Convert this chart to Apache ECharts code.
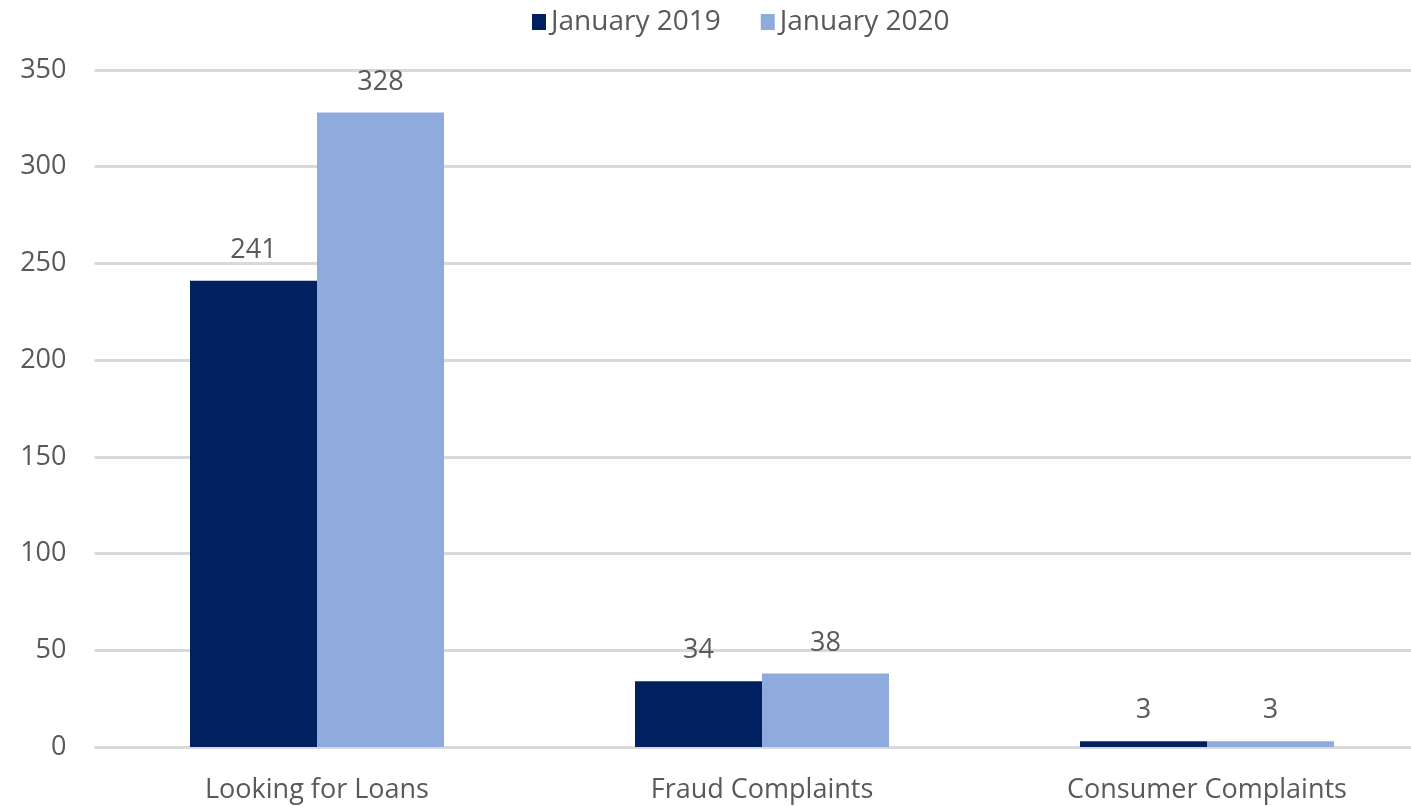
<!DOCTYPE html>
<html>
<head>
<meta charset="utf-8">
<title>Loans and complaints</title>
<script src="https://cdn.jsdelivr.net/npm/echarts@6/dist/echarts.min.js"></script>
<style>
  html, body { margin: 0; padding: 0; background: #fff; }
  #chart { width: 1411px; height: 806px; }
</style>
</head>
<body>
<div id="chart"></div>
<script>
const categories = ['Looking for Loans', 'Fraud Complaints', 'Consumer Complaints']
const jan2019 = [241, 34, 3]
const jan2020 = [328, 38, 3]
const seriesNames = ['January 2019', 'January 2020']

const textColor = '#595959'
const fontFamily = '"Open Sans", "Noto Sans", sans-serif'

const chart = echarts.init(document.getElementById('chart'))

function barLabel() {
  return {
    show: true,
    position: 'top',
    distance: 17,
    color: textColor,
    fontSize: 27,
    fontFamily: fontFamily
  }
}

chart.setOption({
  animation: false,
  legend: {
    data: seriesNames,
    left: 527,
    top: 3,
    itemWidth: 14,
    itemHeight: 16,
    itemGap: 40,
    icon: 'rect',
    textStyle: {
      color: textColor,
      fontSize: 28,
      fontFamily: fontFamily
    }
  },
  grid: {
    left: 94.5,
    width: 1335,
    top: 70,
    bottom: 59,
    containLabel: false,
    outerBoundsMode: 'none'
  },
  xAxis: {
    type: 'category',
    data: categories,
    axisLine: { show: false },
    axisTick: { show: false },
    axisLabel: {
      color: textColor,
      fontSize: 27,
      fontFamily: fontFamily,
      margin: 30
    }
  },
  yAxis: {
    type: 'value',
    min: 0,
    max: 350,
    interval: 50,
    axisLine: { show: false },
    axisTick: { show: false },
    axisLabel: {
      color: textColor,
      fontSize: 27,
      fontFamily: fontFamily,
      margin: 28
    },
    splitLine: {
      lineStyle: { color: '#d9d9d9', width: 3 }
    }
  },
  series: [
    {
      name: seriesNames[0],
      type: 'bar',
      data: jan2019,
      barWidth: 127,
      barGap: '0%',
      itemStyle: { color: '#002060' },
      label: barLabel()
    },
    {
      name: seriesNames[1],
      type: 'bar',
      data: jan2020,
      barWidth: 127,
      barGap: '0%',
      itemStyle: { color: '#8faadc' },
      label: barLabel()
    }
  ]
})
</script>
</body>
</html>
